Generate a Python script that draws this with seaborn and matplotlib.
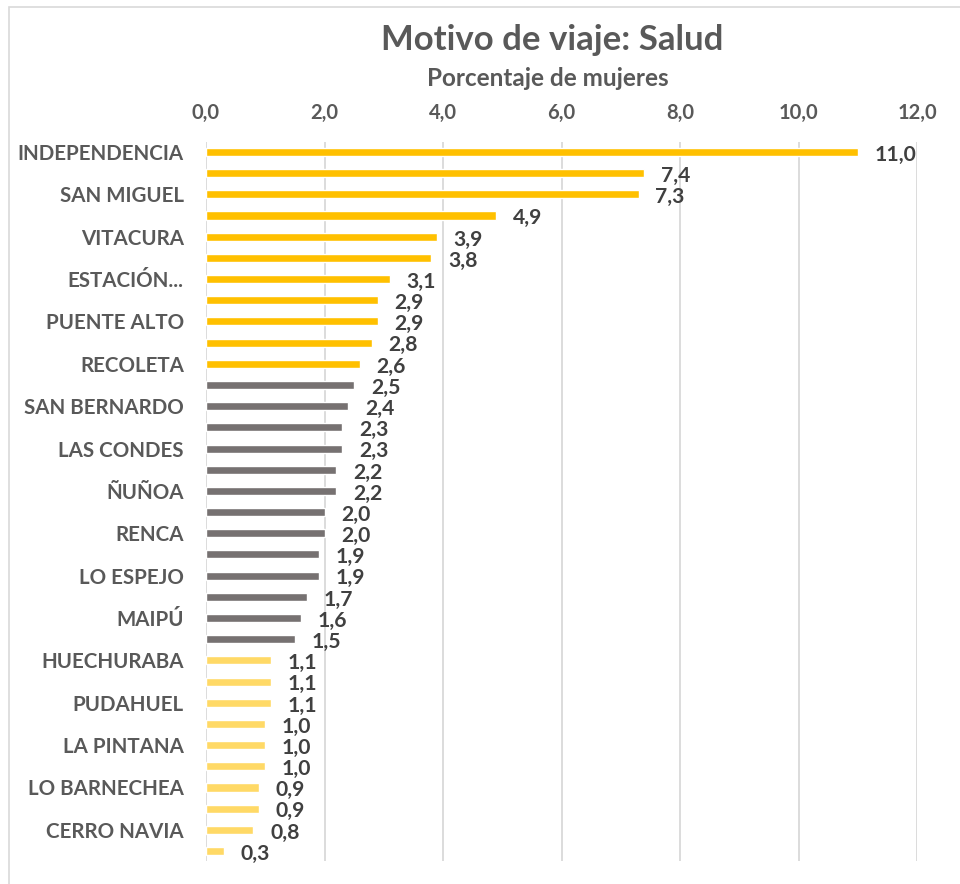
import numpy as np
import pandas as pd
import matplotlib.pyplot as plt
import seaborn as sns
from matplotlib.patches import Rectangle

# Data (only every other commune label is shown)
labels = ["INDEPENDENCIA", "", "SAN MIGUEL", "", "VITACURA", "", "ESTACIÓN...", "",
          "PUENTE ALTO", "", "RECOLETA", "", "SAN BERNARDO", "", "LAS CONDES", "",
          "ÑUÑOA", "", "RENCA", "", "LO ESPEJO", "", "MAIPÚ", "", "HUECHURABA", "",
          "PUDAHUEL", "", "LA PINTANA", "", "LO BARNECHEA", "", "CERRO NAVIA", ""]
values = [11.0, 7.4, 7.3, 4.9, 3.9, 3.8, 3.1, 2.9, 2.9, 2.8, 2.6,
          2.5, 2.4, 2.3, 2.3, 2.2, 2.2, 2.0, 2.0, 1.9, 1.9, 1.7, 1.6, 1.5,
          1.1, 1.1, 1.1, 1.0, 1.0, 1.0, 0.9, 0.9, 0.8, 0.3]
groups = ["alto"] * 11 + ["medio"] * 13 + ["bajo"] * 10
palette = {"alto": "#FFC000", "medio": "#767171", "bajo": "#FFD966"}

df = pd.DataFrame({"pos": range(len(values)), "valor": values, "grupo": groups})

sns.set_style("white")
plt.rcParams["font.family"] = ["Lato", "DejaVu Sans"]

fig = plt.figure(figsize=(9.6, 8.84), dpi=100)
ax = fig.add_axes([206 / 960, 1 - 861 / 884, (917 - 206) / 960, (861 - 142) / 884])

sns.barplot(data=df, x="valor", y="pos", hue="grupo", palette=palette, orient="h",
            dodge=False, width=0.38, saturation=1, legend=False, ax=ax)

ax.set_xlim(0, 12)
ax.set_ylim(33.47, -0.47)
ax.set_xticks(np.arange(0, 12.1, 2))
ax.set_xticklabels([f"{t:.1f}".replace(".", ",") for t in np.arange(0, 12.1, 2)])
ax.xaxis.tick_top()
ax.tick_params(axis="x", length=0, pad=14, labelsize=14.5, labelcolor="#595959")
ax.set_yticks(range(len(labels)))
ax.set_yticklabels(labels)
ax.tick_params(axis="y", length=0, pad=16, labelsize=14.8, labelcolor="#595959")
for lbl in ax.get_xticklabels() + ax.get_yticklabels():
    lbl.set_fontweight("bold")
ax.set_xlabel("")
ax.set_ylabel("")
ax.grid(axis="x", color="#D9D9D9", linewidth=1.3)
ax.set_axisbelow(True)
for s in ax.spines.values():
    s.set_visible(False)

for i, v in enumerate(values):
    ax.annotate(f"{v:.1f}".replace(".", ","), xy=(v, i), xytext=(12, -2),
                textcoords="offset points", ha="left", va="center",
                fontsize=15.2, fontweight="bold", color="#404040", annotation_clip=False)

fig.text(552 / 960, 1 - 40 / 884, "Motivo de viaje: Salud", ha="center", va="center",
         fontsize=25, fontweight="bold", color="#595959")
fig.text(548 / 960, 1 - 78 / 884, "Porcentaje de mujeres", ha="center", va="center",
         fontsize=17.5, fontweight="bold", color="#595959")

fig.patches.append(Rectangle((9 / 960, -0.05), 1.2, 1 - 7 / 884 + 0.05,
                             transform=fig.transFigure, fill=False,
                             edgecolor="#D9D9D9", linewidth=1.2))

fig.savefig("out.png", dpi=100)
